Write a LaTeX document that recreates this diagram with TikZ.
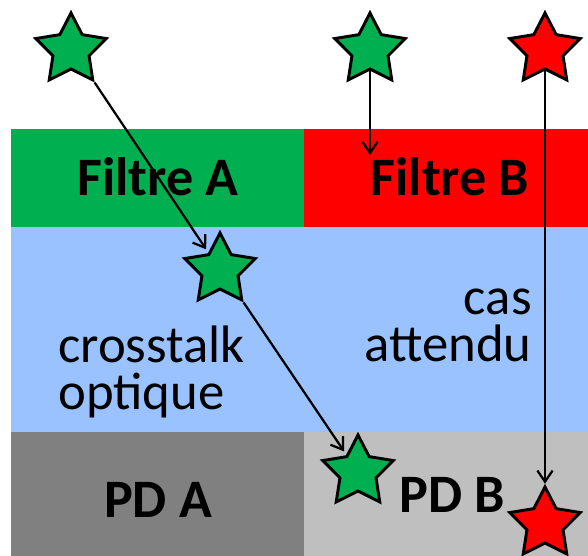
\documentclass[tikz,border=0pt]{standalone}
\usepackage{fontspec}
\setmainfont{Carlito}
\usetikzlibrary{arrows.meta,shapes.geometric}
\definecolor{FilterGreen}{RGB}{0,176,80}
\definecolor{FilterRed}{RGB}{255,0,0}
\definecolor{SpacerBlue}{RGB}{153,194,255}
\definecolor{PdDark}{RGB}{128,128,128}
\definecolor{PdLight}{RGB}{191,191,191}
\tikzset{
  ray/.style={-{Straight Barb[length=2.8mm,width=3.8mm]},line width=1.6pt,draw=black},
  photon/.style={star,star points=5,star point ratio=1.95,draw=black,line width=2.1pt,
    minimum size=1.85cm,inner sep=0pt},
  greenstar/.style={photon,fill=FilterGreen},
  redstar/.style={photon,fill=FilterRed},
  bandlabel/.style={inner sep=0pt,font=\fontsize{38.5}{34}\selectfont\bfseries},
  plainlabel/.style={inner sep=0pt,font=\fontsize{37.5}{34}\selectfont}
}

\begin{document}
\begin{tikzpicture}[x=0.025cm,y=-0.025cm]
  \useasboundingbox (0,0) rectangle (588,556);
  % filters, spacer, photodiodes
  \fill[FilterGreen] (11,129) rectangle (304,227);
  \fill[FilterRed] (304,129) rectangle (588,227);
  \fill[SpacerBlue] (11,227) rectangle (588,432);
  \fill[PdDark] (11,432) rectangle (304,556);
  \fill[PdLight] (304,432) rectangle (588,556);
  \node[bandlabel,anchor=base] (filtA) at (158,196) {Filtre A};
  \node[bandlabel,anchor=base] (filtB) at (450,196) {Filtre B};
  \node[bandlabel,anchor=base] (pdA) at (158,518) {PD A};
  \node[bandlabel,anchor=base] (pdB) at (452,513) {PD B};
  \node[plainlabel,anchor=base west,align=left] (xtalk) at (58,410) {crosstalk\\optique};
  \node[plainlabel,anchor=base east,align=right] (expect) at (532,362) {cas\\attendu};
  % photons
  \node[greenstar] (s1) at (71,50) {};
  \node[greenstar] (s2) at (370,50) {};
  \node[redstar] (s3) at (545,50) {};
  \node[greenstar] (s4) at (220,270) {};
  \node[greenstar] (s5) at (358,472) {};
  \node[redstar] (s6) at (545,524) {};
  \coordinate (stopB) at (370,155);
  \draw[ray,shorten >=0.62cm] (s1.outer point 4) -- (s4.center);
  \draw[ray,shorten >=0.62cm] (s4.outer point 4) -- (s5.center);
  \draw[ray] (s2.south) -- (stopB);
  \draw[ray] (s3.south) -- (s6.north);
\end{tikzpicture}
\end{document}
